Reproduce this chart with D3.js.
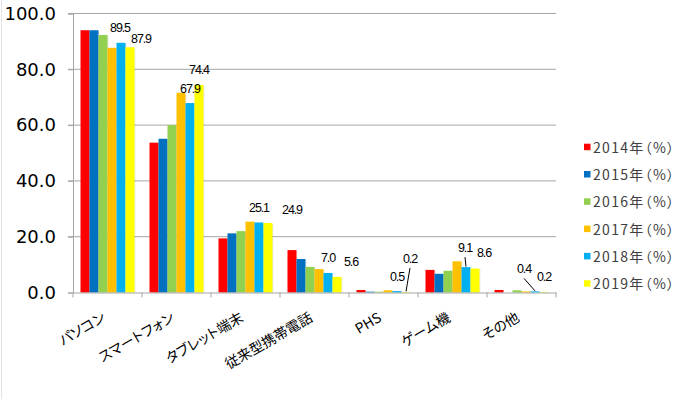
<!DOCTYPE html>
<html><head><meta charset="utf-8">
<script src="https://cdn.jsdelivr.net/npm/d3@7"></script>
<style>body{margin:0;background:#fff}svg{display:block}.palt{font-feature-settings:"palt" 1}</style>
</head><body>
<svg id="c" width="690" height="399"></svg>
<script>
const categories = ["パソコン","スマートフォン","タブレット端末","従来型携帯電話","PHS","ゲーム機","その他"];
const seriesNames = ["2014年（%）","2015年（%）","2016年（%）","2017年（%）","2018年（%）","2019年（%）"];
const v2014 = [94.0, 53.7, 19.4, 15.2, 0.9, 8.1, 0.9];
const v2015 = [94.0, 55.1, 21.2, 12.0, 0.3, 6.7, 0.0];
const v2016 = [92.3, 60.0, 22.0, 9.2, 0.3, 7.8, 0.8];
const v2017 = [87.7, 71.6, 25.4, 8.4, 0.8, 11.2, 0.4];
const v2018 = [89.5, 67.9, 25.1, 7.0, 0.5, 9.1, 0.4];
const v2019 = [87.9, 74.4, 24.9, 5.6, 0.2, 8.6, 0.2];
const yTicks = [0, 20, 40, 60, 80, 100];
const seriesValues = [v2014, v2015, v2016, v2017, v2018, v2019];
const colors = ["#FF0000","#0070C0","#92D050","#FFC000","#00B0F0","#FFFF00"];

// label layout (series index 4 = 2018, 5 = 2019), nudges relative to bar top-center
const labelSeries = [4, 5];
const defaultNudge = [0, -14.5];
const nudges = {
  "4-0": [-1, -14.7], "4-5": [-1, -19], "4-6": [-11, -22],
  "5-0": [11, -8], "5-2": [24, -13], "5-3": [14, -15], "5-4": [4, -33], "5-5": [9, -15.5]
};
const leaders = ["5-4", "4-5", "4-6"];

const svg = d3.select("#c");
const mLeft = 73, mRight = 556, mTop = 13.5, mBottom = 292.5;

const x0 = d3.scaleBand().domain(categories).range([mLeft, mRight]).paddingInner(0).paddingOuter(0);
const x1 = d3.scaleBand().domain(d3.range(seriesNames.length)).range([0, x0.bandwidth()]).paddingInner(0).paddingOuter(0.8333);
const y = d3.scaleLinear().domain([0, 100]).range([mBottom, mTop]);

// faint outer border
svg.append("line").attr("x1",1.5).attr("x2",1.5).attr("y1",0).attr("y2",399).attr("stroke","#e4e4e4");

// gridlines
svg.append("g").selectAll("line").data(yTicks.filter(d => d > 0)).join("line")
  .attr("x1", mLeft - 5).attr("x2", mRight).attr("y1", d => y(d)).attr("y2", d => y(d))
  .attr("stroke", "#a6a6a6").attr("stroke-width", 1);

// y axis
const yAxis = d3.axisLeft(y).tickValues(yTicks).tickFormat(d3.format(".1f")).tickSize(5).tickPadding(12);
const gy = svg.append("g").attr("transform", `translate(${mLeft},0)`).call(yAxis);
gy.select(".domain").attr("stroke", "#a6a6a6");
gy.selectAll(".tick line").attr("stroke", "#a6a6a6");
gy.selectAll(".tick text").attr("font-family", "DejaVu Sans, sans-serif").attr("font-size", 18).attr("fill", "#000");

// bars
const groups = svg.append("g").selectAll("g").data(categories).join("g")
  .attr("transform", d => `translate(${x0(d)},0)`);
groups.selectAll("rect.shadow").data((c, ci) => seriesValues.map((s, si) => ({si, v: s[ci]}))).join("rect")
  .attr("class", "shadow")
  .attr("x", d => x1(d.si) + 1).attr("width", x1.bandwidth())
  .attr("y", d => y(d.v) + 1).attr("height", d => Math.max(0, y(0) - y(d.v) - 1))
  .attr("fill", "#000").attr("opacity", d => d.v > 0 ? 0.08 : 0);
groups.selectAll("rect.bar").data((c, ci) => seriesValues.map((s, si) => ({si, v: s[ci]}))).join("rect")
  .attr("class", "bar")
  .attr("x", d => x1(d.si)).attr("width", x1.bandwidth())
  .attr("y", d => y(d.v)).attr("height", d => y(0) - y(d.v))
  .attr("fill", d => colors[d.si]);

// x axis
const xAxis = d3.axisBottom(x0).tickSize(0).tickFormat("");
const gx = svg.append("g").attr("transform", `translate(0,${mBottom})`).call(xAxis);
gx.select(".domain").attr("stroke", "#a6a6a6");
svg.append("g").selectAll("line").data(d3.range(categories.length + 1)).join("line")
  .attr("x1", i => mLeft + i * x0.step()).attr("x2", i => mLeft + i * x0.step())
  .attr("y1", mBottom).attr("y2", mBottom + 5).attr("stroke", "#a6a6a6");

// x labels
svg.append("g").selectAll("text").data(categories).join("text")
  .attr("class", "palt")
  .attr("transform", d => `translate(${x0(d) + x0.bandwidth() / 2 - 1},${mBottom + 28}) rotate(-30)`)
  .attr("text-anchor", "end")
  .attr("font-family", "Noto Sans CJK JP, sans-serif").attr("font-size", 14).attr("fill", "#000")
  .text(d => d);

// data labels
const labels = [];
labelSeries.forEach(si => categories.forEach((c, ci) => {
  const key = `${si}-${ci}`;
  const n = nudges[key] || defaultNudge;
  const bx = x0(c) + x1(si) + x1.bandwidth() / 2;
  const by = y(seriesValues[si][ci]);
  labels.push({key, bx, by, lx: bx + n[0], ly: by + n[1], v: seriesValues[si][ci]});
}));
svg.append("g").selectAll("line").data(labels.filter(d => leaders.includes(d.key))).join("line")
  .attr("x1", d => d.lx).attr("y1", d => d.ly + 9)
  .attr("x2", d => d.bx).attr("y2", d => d.by - 0.5)
  .attr("stroke", "#000").attr("stroke-width", 1);
svg.append("g").selectAll("text").data(labels).join("text")
  .attr("x", d => d.lx).attr("y", d => d.ly)
  .attr("text-anchor", "middle").attr("dominant-baseline", "central")
  .attr("font-family", "Liberation Sans, Arial, sans-serif").attr("font-size", 12.5)
  .attr("letter-spacing", "-1.1px").attr("fill", "#000")
  .text(d => d.v.toFixed(1));

// legend
const lg = svg.append("g").selectAll("g").data(seriesNames).join("g")
  .attr("transform", (d, i) => `translate(584,${146.7 + i * 27.3})`);
lg.append("rect").attr("x", 0).attr("y", -3).attr("width", 6.5).attr("height", 6.5).attr("fill", (d, i) => colors[i]);
lg.append("text").attr("class", "palt").attr("x", 9).attr("y", 0).attr("dominant-baseline", "central")
  .attr("font-family", "Noto Sans CJK JP, sans-serif").attr("font-size", 14).attr("fill", "#404040")
  .attr("letter-spacing", "1.3px")
  .text(d => d);
</script>
</body></html>
